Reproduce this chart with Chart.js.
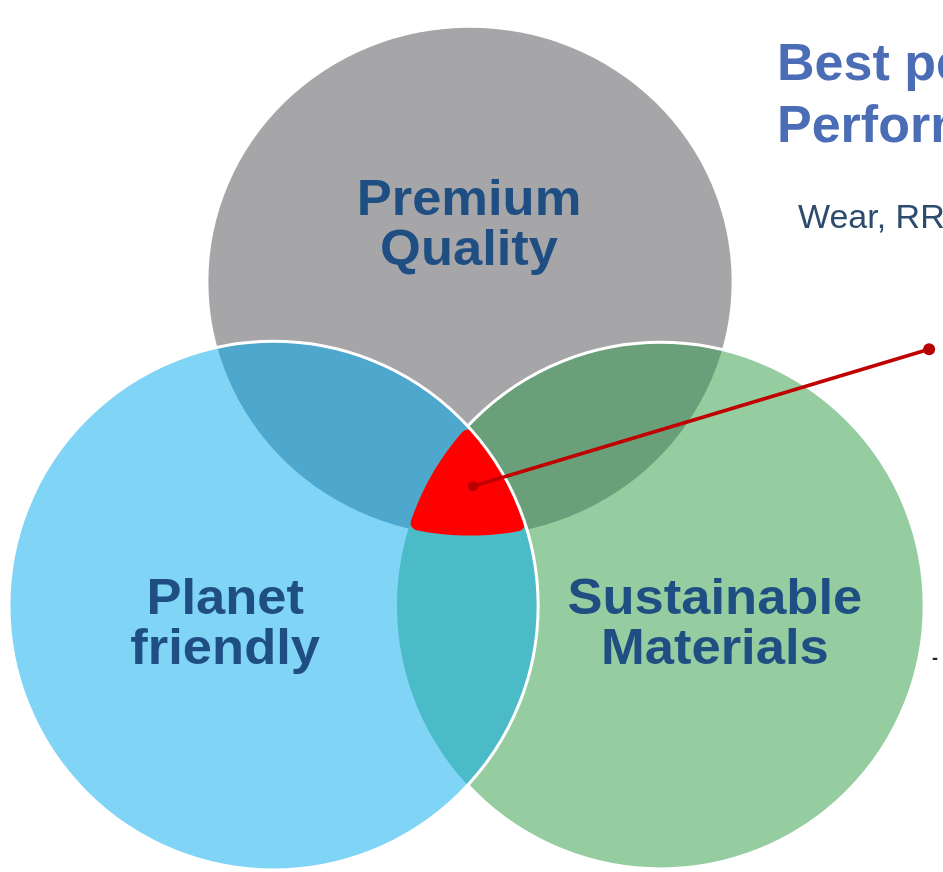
<!DOCTYPE html>
<html>
<head>
<meta charset="utf-8">
<script src="https://cdn.jsdelivr.net/npm/chart.js@4/dist/chart.umd.min.js"></script>
<style>
  html, body { margin: 0; padding: 0; background: #ffffff; }
  #wrap { width: 943px; height: 872px; }
</style>
</head>
<body>
<div id="wrap"><canvas id="c" width="943" height="872"></canvas></div>
<script>
// ---- Data (Venn sets, in chart units) ----
const sets = ['Premium Quality', 'Planet friendly', 'Sustainable Materials'];
const setLines = [['Premium', 'Quality'], ['Planet', 'friendly'], ['Sustainable', 'Materials']];
const centerX = [470, 271, 663];
const centerY = [279.5, 608, 608];
const radiusX = [265, 268, 267];
const radiusY = [257.5, 268, 267];
const labelX = [469, 222, 718];
const labelY = [237, 642, 642];
// leader line from the common intersection to the callout
const leaderX = [473, 935];
const leaderY = [487, 348];
const titleLines = ['Best performance', 'Performance'];
const subtitle = 'Wear, RRC, Grip';

const baseColors = ['#a6a6a8', '#80d4f6', '#95cda0'];
const pairColors = { '0-1': '#4ea7cc', '0-2': '#69a079', '1-2': '#4bbbc7' };
const tripleColor = '#ff0000';
const cornerRound = 7;

function stretchedText(ctx, text, x, y, sx) {
  ctx.save();
  ctx.translate(x, y);
  ctx.scale(sx, 1);
  ctx.fillText(text, 0, 0);
  ctx.restore();
}

const vennPlugin = {
  id: 'venn',
  beforeDatasetsDraw(chart) {
    const ctx = chart.ctx;
    const xs = chart.scales.x, ys = chart.scales.y;
    const geo = centerX.map((cx, i) => ({
      x: xs.getPixelForValue(cx),
      y: ys.getPixelForValue(centerY[i]),
      rx: Math.abs(xs.getPixelForValue(cx + radiusX[i]) - xs.getPixelForValue(cx)),
      ry: Math.abs(ys.getPixelForValue(centerY[i] + radiusY[i]) - ys.getPixelForValue(centerY[i]))
    }));
    const path = (i) => { ctx.beginPath(); ctx.ellipse(geo[i].x, geo[i].y, geo[i].rx, geo[i].ry, 0, 0, Math.PI * 2); };
    ctx.save();
    // base fills: gray, green, blue
    [0, 2, 1].forEach(i => { path(i); ctx.fillStyle = baseColors[i]; ctx.fill(); });
    // pair overlaps
    [[0, 1], [0, 2], [1, 2]].forEach(([a, b]) => {
      ctx.save(); path(a); ctx.clip(); path(b); ctx.fillStyle = pairColors[a + '-' + b]; ctx.fill(); ctx.restore();
    });
    // triple intersection with rounded corners: shrink, outline, then stroke back out with round joins
    const r = cornerRound;
    const sh = geo.map(g => ({ x: g.x, y: g.y, rx: g.rx - r, ry: g.ry - r }));
    const inside = (e, px, py) => ((px - e.x) / e.rx) ** 2 + ((py - e.y) / e.ry) ** 2 <= 1;
    let pts = [];
    sh.forEach((e, i) => {
      for (let k = 0; k < 1440; k++) {
        const t = k / 1440 * Math.PI * 2;
        const px = e.x + e.rx * Math.cos(t), py = e.y + e.ry * Math.sin(t);
        if (sh.every((o, j) => j === i || inside(o, px, py))) pts.push([px, py]);
      }
    });
    if (pts.length > 2) {
      const cx = pts.reduce((s, p) => s + p[0], 0) / pts.length;
      const cy = pts.reduce((s, p) => s + p[1], 0) / pts.length;
      pts.sort((a, b) => Math.atan2(a[1] - cy, a[0] - cx) - Math.atan2(b[1] - cy, b[0] - cx));
      ctx.beginPath();
      pts.forEach((p, k) => k ? ctx.lineTo(p[0], p[1]) : ctx.moveTo(p[0], p[1]));
      ctx.closePath();
      ctx.fillStyle = tripleColor; ctx.strokeStyle = tripleColor;
      ctx.lineJoin = 'round'; ctx.lineWidth = 2 * r;
      ctx.fill(); ctx.stroke();
    }
    // white edges
    ctx.lineWidth = 3; ctx.strokeStyle = '#ffffff';
    ctx.save();
    ctx.beginPath(); ctx.rect(0, 0, chart.width, chart.height);
    ctx.ellipse(geo[1].x, geo[1].y, geo[1].rx, geo[1].ry, 0, 0, Math.PI * 2);
    ctx.clip('evenodd');
    path(2); ctx.stroke();
    ctx.restore();
    path(1); ctx.stroke();
    ctx.restore();

    // labels
    ctx.save();
    ctx.fillStyle = '#1f4e82';
    ctx.font = 'bold 50px "Liberation Sans", Arial, sans-serif';
    ctx.textAlign = 'center'; ctx.textBaseline = 'alphabetic';
    setLines.forEach((lines, i) => {
      const px = xs.getPixelForValue(labelX[i]);
      const py = ys.getPixelForValue(labelY[i]);
      stretchedText(ctx, lines[0], px, py - 25, 1.05);
      stretchedText(ctx, lines[1], px, py + 25, 1.05);
    });
    // callout title
    ctx.textAlign = 'left';
    ctx.fillStyle = '#4a6db5';
    ctx.font = 'bold 52px "Liberation Sans", Arial, sans-serif';
    ctx.fillText(titleLines[0], 777, 80);
    ctx.fillText(titleLines[1], 777, 142);
    ctx.fillStyle = '#2d4b6d';
    ctx.font = '33px "Liberation Sans", Arial, sans-serif';
    stretchedText(ctx, subtitle, 798, 228, 1.03);
    ctx.fillStyle = '#222222';
    ctx.font = 'bold 18px "Liberation Sans", Arial, sans-serif';
    ctx.fillText('-', 932, 664);
    ctx.restore();
  }
};

new Chart(document.getElementById('c'), {
  type: 'scatter',
  data: {
    datasets: [{
      label: 'Leader',
      type: 'line',
      data: leaderX.map((x, i) => ({ x, y: leaderY[i] })),
      borderColor: '#c00000',
      backgroundColor: '#c00000',
      borderWidth: 3.5,
      pointRadius: [5, 6],
      pointBackgroundColor: '#b80000',
      pointBorderWidth: 0,
      showLine: true,
      tension: 0
    }]
  },
  options: {
    responsive: false,
    animation: false,
    layout: { padding: 0 },
    plugins: { legend: { display: false }, tooltip: { enabled: false }, title: { display: false } },
    scales: {
      x: { type: 'linear', min: 0, max: 943, display: false },
      y: { type: 'linear', min: 0, max: 872, reverse: true, display: false }
    }
  },
  plugins: [vennPlugin]
});
</script>
</body>
</html>
